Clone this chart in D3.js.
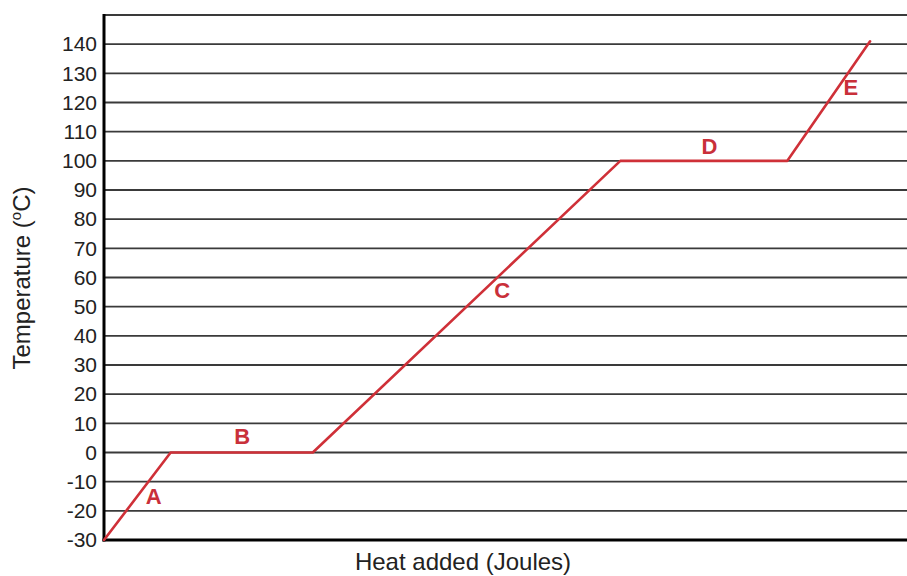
<!DOCTYPE html>
<html><head><meta charset="utf-8">
<script src="https://cdn.jsdelivr.net/npm/d3@7"></script>
<style>body{margin:0;background:#fff}svg{display:block}</style>
</head><body><svg id="c" width="907" height="576"></svg>
<script>
const heat = [0, 8.3, 26.0, 64.3, 85.1, 95.4];
const temp = [-30, 0, 0, 100, 100, 141];
const yTicks = [-30,-20,-10,0,10,20,30,40,50,60,70,80,90,100,110,120,130,140];
const phaseLabels = ["A","B","C","D","E"];
const labelHeat = [6.2, 17.2, 49.6, 75.4, 93.0];
const labelTemp = [-15, 5.5, 55.5, 105, 125];

const svg = d3.select("#c");
const L=104, R=907, T=15, B=540;
const FONT = "Liberation Sans, Arial, sans-serif";
const x = d3.scaleLinear().domain([0,100]).range([L,R]);
const y = d3.scaleLinear().domain([-30,150]).range([B,T]);

// gridlines
svg.append("g").selectAll("line").data(yTicks.concat([150])).join("line")
  .attr("x1",L).attr("x2",R).attr("y1",d=>y(d)).attr("y2",d=>y(d))
  .attr("stroke","#3a3a3a").attr("stroke-width",1.8);

// y axis labels
const yAxis = d3.axisLeft(y).tickValues(yTicks).tickSize(0).tickPadding(7).tickFormat(d=>String(d));
const gy = svg.append("g").attr("transform",`translate(${L},0)`).call(yAxis);
gy.select(".domain").remove();
gy.selectAll("text").attr("font-family",FONT).attr("font-size",21).attr("fill","#222");

// axes lines
svg.append("line").attr("x1",L).attr("x2",L).attr("y1",T-1).attr("y2",B+1.5).attr("stroke","#000").attr("stroke-width",3);
svg.append("line").attr("x1",L-1.5).attr("x2",R).attr("y1",B).attr("y2",B).attr("stroke","#000").attr("stroke-width",3);

// curve
const line = d3.line().x((d,i)=>x(heat[i])).y((d,i)=>y(temp[i]));
svg.append("path").attr("d",line(heat)).attr("fill","none").attr("stroke","#cf3038").attr("stroke-width",2.6).attr("stroke-linejoin","round").attr("stroke-linecap","round");

// phase labels
svg.append("g").selectAll("text").data(phaseLabels).join("text")
  .attr("x",(d,i)=>x(labelHeat[i])).attr("y",(d,i)=>y(labelTemp[i]))
  .attr("text-anchor","middle").attr("dominant-baseline","central")
  .attr("font-family",FONT).attr("font-weight","bold").attr("font-size",22)
  .attr("fill","#c9303a").text(d=>d);

// axis titles
const yt = svg.append("text").attr("transform","translate(30,278) rotate(-90)")
  .attr("text-anchor","middle").attr("font-family",FONT).attr("font-size",24).attr("fill","#222");
yt.append("tspan").text("Temperature (");
yt.append("tspan").attr("font-size",15).attr("dy",-9).text("o");
yt.append("tspan").attr("dy",9).text("C)");
svg.append("text").attr("x",463).attr("y",570).attr("text-anchor","middle")
  .attr("font-family",FONT).attr("font-size",24).attr("fill","#222").text("Heat added (Joules)");
</script></body></html>
